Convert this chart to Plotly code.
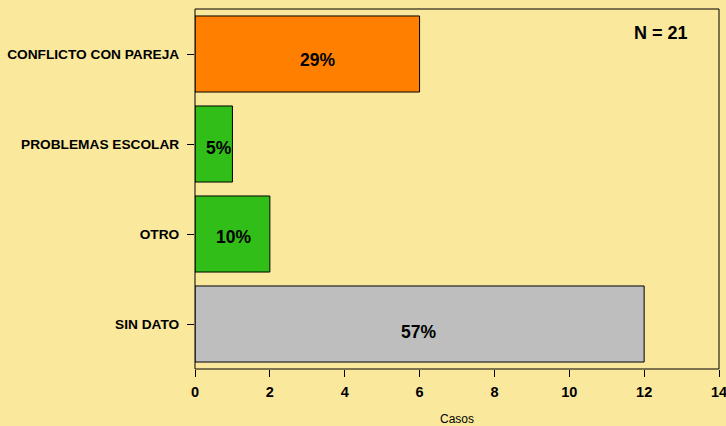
import plotly.graph_objects as go

categories = ["CONFLICTO CON PAREJA", "PROBLEMAS ESCOLAR", "OTRO", "SIN DATO"]
casos = [6, 1, 2, 12]
pct_labels = ["29%", "5%", "10%", "57%"]
colors = ["#FF8000", "#32BE19", "#32BE19", "#BEBEBE"]
x_ticks = [0, 2, 4, 6, 8, 10, 12, 14]
n_label = "N = 21"

# small styling offsets for percentage labels (pixels)
label_xshift = [10, 5, 1, -1]
label_yshift = [-6, -4, -3, -8]

bg = "#FAE89C"
font_family = "Liberation Sans, Arial, sans-serif"

ypos = list(range(len(categories)))

fig = go.Figure()
fig.add_trace(go.Bar(
    x=casos, y=ypos, orientation="h",
    marker=dict(color=colors, line=dict(color="#000000", width=1)),
    width=0.845, hoverinfo="skip",
))

for i, (v, t) in enumerate(zip(casos, pct_labels)):
    fig.add_annotation(
        x=v / 2, y=ypos[i], text="<b>%s</b>" % t, showarrow=False,
        xshift=label_xshift[i], yshift=label_yshift[i],
        font=dict(family=font_family, size=17.5, color="#000000"),
    )

fig.add_annotation(
    xref="paper", yref="paper", x=0.89, y=0.933, xanchor="center", yanchor="middle",
    text="<b>%s</b>" % n_label,
    showarrow=False, font=dict(family=font_family, size=18, color="#000000"),
)

fig.update_layout(
    width=726, height=426,
    margin=dict(l=194.7, r=6.5, t=9.3, b=57),
    paper_bgcolor=bg, plot_bgcolor=bg,
    showlegend=False,
    font=dict(family=font_family, color="#000000"),
    shapes=[dict(type="rect", xref="paper", yref="paper", x0=0, y0=0, x1=1, y1=1,
                 line=dict(color="#000000", width=1), layer="above")],
)
fig.update_xaxes(
    range=[0, 14], tickvals=x_ticks, ticktext=["<b>%d</b>" % t for t in x_ticks],
    ticks="outside", ticklen=7, tickcolor="#000000", showgrid=False, zeroline=False,
    showline=False, tickfont=dict(size=14.5, family=font_family),
    ticklabeloverflow="allow", ticklabelstandoff=3, automargin=False,
    title=dict(text="Casos", font=dict(size=12, family=font_family), standoff=16),
)
fig.update_yaxes(
    range=[3.5, -0.5], tickvals=ypos, ticktext=["<b>%s</b>" % c for c in categories],
    ticks="outside", ticklen=7, tickcolor="#000000", showgrid=False, zeroline=False,
    showline=False, tickfont=dict(size=13.7, family=font_family),
    ticklabelstandoff=5, automargin=False,
)

fig.write_html(
    "out.html",
    config={"displayModeBar": False},
    post_script="document.body.style.margin='0';document.body.style.overflow='hidden';",
)
